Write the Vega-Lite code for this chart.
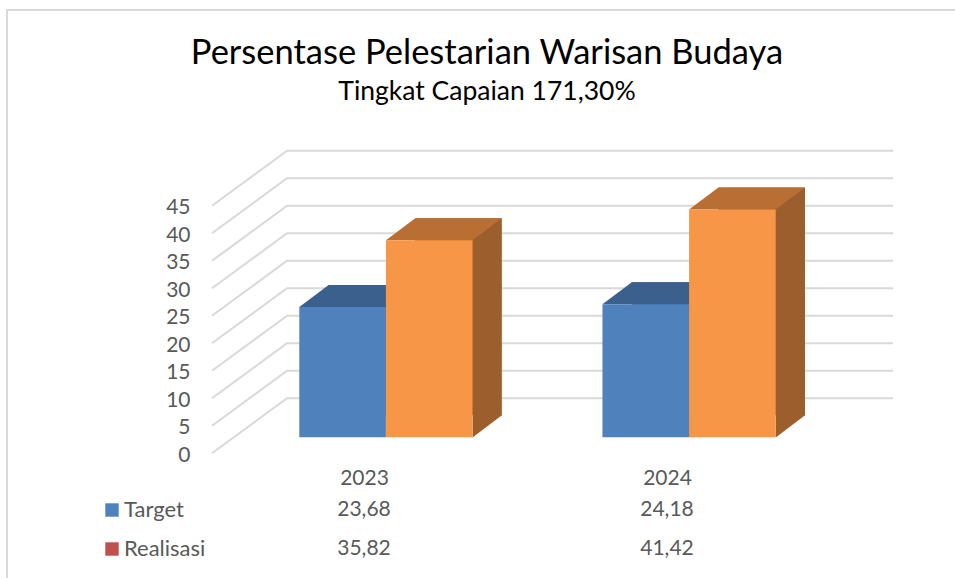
{
  "$schema": "https://vega.github.io/schema/vega-lite/v6.json",
  "width": 960,
  "height": 580,
  "autosize": "none",
  "padding": {"left": 7, "top": 10, "right": 0, "bottom": 0},
  "background": "white",
  "config": {
    "view": {"stroke": "#d9d9d9", "strokeWidth": 2},
    "locale": {"number": {"decimal": ",", "thousands": ".", "grouping": [3], "currency": ["", ""]}},
    "font": "Lato"
  },
  "title": {
    "text": "Persentase Pelestarian Warisan Budaya",
    "subtitle": "Tingkat Capaian 171,30%",
    "anchor": "middle",
    "offset": -96,
    "font": "Lato",
    "fontSize": 34.5,
    "fontWeight": "normal",
    "color": "#000000",
    "subtitleFont": "Lato",
    "subtitleFontSize": 26.5,
    "subtitleColor": "#000000",
    "subtitlePadding": 7
  },
  "datasets": {
    "bars": [
      {"year": "2023", "series": "Target", "value": 23.68},
      {"year": "2023", "series": "Realisasi", "value": 35.82},
      {"year": "2024", "series": "Target", "value": 24.18},
      {"year": "2024", "series": "Realisasi", "value": 41.42}
    ],
    "ticks": [
      {"tick": 0}, {"tick": 5}, {"tick": 10}, {"tick": 15}, {"tick": 20},
      {"tick": 25}, {"tick": 30}, {"tick": 35}, {"tick": 40}, {"tick": 45}
    ]
  },
  "layer": [
    {
      "data": {"name": "ticks"},
      "mark": {"type": "point", "shape": "M-275,0 L-200,-55 L406,-55", "size": 4, "filled": false, "stroke": "#d9d9d9", "strokeWidth": 2, "opacity": 1},
      "encoding": {
        "y": {
          "field": "tick", "type": "quantitative",
          "scale": {"domain": [0, 45], "range": [443.3, 195.8], "nice": false, "zero": false},
          "axis": {"orient": "left", "offset": -183, "values": [0, 5, 10, 15, 20, 25, 30, 35, 40, 45], "domain": false, "ticks": false, "grid": false, "labelPadding": 0, "labelOffset": 2, "labelFont": "Lato", "labelFontSize": 21, "labelColor": "#595959", "title": null}
        }
      }
    },
    {
      "data": {"name": "bars"},
      "mark": {"type": "bar", "opacity": 1},
      "encoding": {
        "x": {"field": "year", "type": "nominal", "scale": {"range": [321.6, 798], "paddingInner": 0.4285, "paddingOuter": 0}, "axis": null},
        "xOffset": {"field": "series", "scale": {"domain": ["Target", "Realisasi"]}},
        "y": {"field": "value", "type": "quantitative", "scale": {"domain": [0, 45], "range": [405.3, 157.8], "nice": false}, "axis": null},
        "color": {"condition": {"test": "datum.series === 'Target'", "value": "#3A5E8A"}, "value": "#9B5E2C"}
      }
    },
    {
      "data": {"name": "bars"},
      "mark": {"type": "point", "shape": "M-43.3,0 L43.3,0 L72.6,-22 L-14,-22 Z", "size": 4, "filled": true, "strokeWidth": 0, "opacity": 1},
      "encoding": {
        "x": {"field": "year", "type": "nominal", "scale": {"range": [292.3, 768.7], "paddingInner": 0.4285, "paddingOuter": 0}, "axis": null},
        "xOffset": {"field": "series", "scale": {"domain": ["Target", "Realisasi"]}},
        "y": {"field": "value", "type": "quantitative", "scale": {"domain": [0, 45], "range": [427.3, 179.8], "nice": false}, "axis": null},
        "color": {"condition": {"test": "datum.series === 'Target'", "value": "#3C608E"}, "value": "#B96F34"}
      }
    },
    {
      "data": {"name": "bars"},
      "mark": {"type": "point", "shape": "M43.3,-22.3 L43.3,0.3 L73,-22.3 Z", "size": 4, "filled": true, "strokeWidth": 0, "opacity": 1},
      "encoding": {
        "x": {"field": "year", "type": "nominal", "scale": {"range": [292.3, 768.7], "paddingInner": 0.4285, "paddingOuter": 0}, "axis": null},
        "xOffset": {"field": "series", "scale": {"domain": ["Target", "Realisasi"]}},
        "y": {"datum": 0, "type": "quantitative", "scale": {"domain": [0, 45], "range": [427.3, 179.8], "nice": false}, "axis": null},
        "color": {"condition": {"test": "datum.series === 'Target'", "value": "#3A5E8A"}, "value": "#9B5E2C"}
      }
    },
    {
      "data": {"name": "bars"},
      "mark": {"type": "bar", "opacity": 1},
      "encoding": {
        "x": {"field": "year", "type": "nominal", "scale": {"range": [292.3, 768.7], "paddingInner": 0.4285, "paddingOuter": 0}, "axis": null},
        "xOffset": {"field": "series", "scale": {"domain": ["Target", "Realisasi"]}},
        "y": {"field": "value", "type": "quantitative", "scale": {"domain": [0, 45], "range": [427.3, 179.8], "nice": false}, "axis": null},
        "color": {"condition": {"test": "datum.series === 'Target'", "value": "#4F81BD"}, "value": "#F79646"}
      }
    },
    {
      "data": {"name": "bars"},
      "mark": {"type": "text", "font": "Lato", "fontSize": 21, "color": "#595959", "baseline": "middle"},
      "encoding": {
        "x": {
          "field": "year", "type": "nominal",
          "scale": {"type": "point", "range": [357, 660], "padding": 0},
          "axis": {"orient": "bottom", "offset": -112, "domain": false, "ticks": false, "labelPadding": 0, "labelBaseline": "middle", "labelFontSize": 21, "labelColor": "#595959", "labelFont": "Lato", "title": null, "labelAngle": 0}
        },
        "y": {"field": "series", "type": "nominal", "scale": {"type": "point", "domain": ["Target", "Realisasi"], "range": [500, 539], "padding": 0}, "axis": null},
        "text": {"field": "value", "type": "quantitative", "format": ".2f"}
      }
    },
    {
      "data": {"name": "bars"},
      "transform": [{"filter": "false"}],
      "mark": {"type": "square", "opacity": 1},
      "encoding": {
        "color": {
          "field": "series", "type": "nominal",
          "scale": {"domain": ["Target", "Realisasi"], "range": ["#4F81BD", "#C0504D"]},
          "legend": {"orient": "none", "legendX": 94, "legendY": 489, "title": null, "padding": 0, "symbolType": "square", "symbolSize": 180, "symbolStrokeWidth": 0, "labelFont": "Lato", "labelFontSize": 22, "labelColor": "#595959", "labelOffset": 1, "rowPadding": 17}
        }
      }
    }
  ],
  "resolve": {"scale": {"x": "independent", "y": "independent", "xOffset": "independent", "color": "independent"}}
}
